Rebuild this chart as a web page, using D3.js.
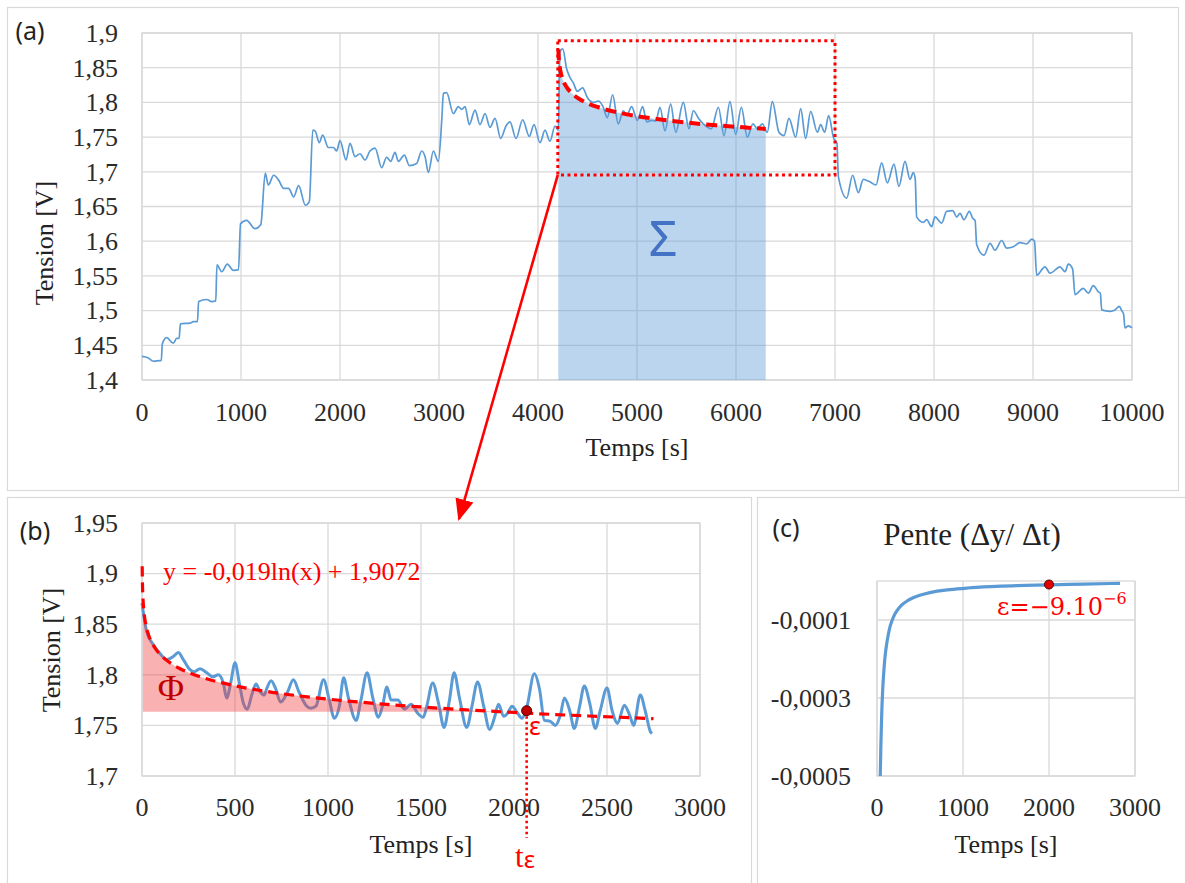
<!DOCTYPE html>
<html>
<head>
<meta charset="utf-8">
<script src="https://d3js.org/d3.v7.min.js"></script>
<style>
  body { margin: 0; background: #fff; }
  svg { display: block; }
</style>
</head>
<body>
<div id="chartHere"></div>
<script>

// ---- panel (a): full record ----
var aT = [0,60,115,182,195,205,249,316,350,375,388,485,519,560,572,653,704,745,757,805,862,923,975,995,1057,1141,1200,1245,1276,1330,1380,1431,1481,1532,1582,1650,1690,1725,1748,1791,1825,1882,1933,1966,2000,2061,2101,2152,2202,2253,2303,2354,2421,2471,2512,2556,2589,2650,2700,2774,2825,2859,2893,2943,2993,3030,3044,3077,3145,3195,3229,3263,3306,3364,3414,3465,3515,3566,3623,3677,3717,3778,3845,3912,3960,4020,4071,4121,4172,4205,4222,4250,4290,4323,4357,4397,4451,4498,4559,4609,4653,4700,4754,4811,4862,4896,4946,5003,5057,5098,5148,5190,5232,5283,5340,5391,5468,5525,5569,5626,5694,5751,5822,5879,5939,5997,6054,6114,6172,6215,6266,6316,6367,6434,6485,6535,6603,6653,6704,6754,6822,6855,6896,6936,6987,7020,7034,7118,7178,7236,7286,7347,7414,7471,7529,7596,7646,7707,7758,7791,7810,7825,7892,7926,7976,8010,8077,8128,8189,8229,8263,8303,8357,8391,8415,8431,8505,8566,8616,8684,8734,8801,8869,8936,8987,9015,9037,9121,9172,9273,9323,9357,9400,9424,9508,9559,9609,9660,9680,9694,9778,9828,9872,9896,9915,9929,9963,10000];
var aV = [1.434,1.432,1.427,1.428,1.428,1.452,1.461,1.453,1.460,1.460,1.481,1.482,1.484,1.484,1.513,1.516,1.513,1.514,1.566,1.556,1.567,1.558,1.559,1.625,1.630,1.618,1.624,1.698,1.681,1.695,1.688,1.676,1.676,1.664,1.680,1.652,1.657,1.760,1.759,1.742,1.753,1.735,1.735,1.730,1.745,1.717,1.741,1.722,1.726,1.717,1.730,1.734,1.706,1.721,1.715,1.728,1.715,1.724,1.709,1.712,1.730,1.722,1.699,1.730,1.715,1.780,1.813,1.814,1.784,1.794,1.790,1.794,1.768,1.789,1.768,1.784,1.764,1.777,1.748,1.766,1.772,1.748,1.775,1.751,1.768,1.742,1.760,1.744,1.766,1.760,1.873,1.877,1.848,1.836,1.828,1.816,1.821,1.807,1.800,1.802,1.795,1.778,1.811,1.769,1.788,1.781,1.794,1.774,1.794,1.772,1.774,1.773,1.793,1.759,1.798,1.757,1.800,1.762,1.788,1.776,1.766,1.762,1.793,1.752,1.801,1.754,1.793,1.750,1.769,1.762,1.769,1.757,1.801,1.757,1.752,1.777,1.750,1.791,1.748,1.787,1.757,1.768,1.757,1.781,1.748,1.741,1.693,1.662,1.695,1.670,1.689,1.686,1.681,1.713,1.684,1.711,1.679,1.715,1.689,1.699,1.690,1.635,1.627,1.631,1.621,1.635,1.626,1.643,1.644,1.635,1.640,1.631,1.643,1.633,1.630,1.595,1.580,1.597,1.587,1.601,1.590,1.592,1.598,1.596,1.603,1.600,1.551,1.563,1.554,1.563,1.556,1.567,1.560,1.523,1.532,1.525,1.536,1.527,1.525,1.501,1.499,1.501,1.506,1.500,1.495,1.475,1.478,1.475];
var aXTicks = [0,1000,2000,3000,4000,5000,6000,7000,8000,9000,10000];
var aYTicks = [1.4,1.45,1.5,1.55,1.6,1.65,1.7,1.75,1.8,1.85,1.9];

// ---- panel (b): zoom on the relaxation ----
var bT = [0,25,60,97,133,168,195,222,258,280,312,348,380,410,437,455,477,500,523,545,566,590,613,636,657,672,694,717,745,780,814,844,881,908,935,976,1007,1034,1061,1084,1109,1151,1177,1210,1240,1271,1294,1317,1339,1375,1411,1447,1482,1512,1531,1563,1594,1624,1653,1678,1706,1746,1774,1804,1837,1869,1894,1917,1944,1966,1989,2016,2043,2070,2109,2138,2163,2195,2222,2249,2271,2299,2324,2353,2378,2407,2437,2464,2500,2527,2557,2593,2622,2643,2679,2706,2733,2742];
var bV = [1.871,1.843,1.830,1.821,1.815,1.818,1.822,1.815,1.805,1.803,1.806,1.802,1.798,1.800,1.792,1.777,1.792,1.812,1.792,1.772,1.766,1.780,1.791,1.783,1.780,1.787,1.794,1.787,1.773,1.782,1.795,1.783,1.770,1.767,1.769,1.795,1.775,1.757,1.769,1.797,1.778,1.755,1.775,1.802,1.778,1.758,1.770,1.788,1.775,1.775,1.766,1.771,1.762,1.758,1.769,1.792,1.772,1.748,1.775,1.802,1.778,1.748,1.769,1.793,1.769,1.746,1.757,1.771,1.759,1.762,1.769,1.763,1.757,1.769,1.801,1.785,1.755,1.754,1.750,1.760,1.777,1.765,1.747,1.769,1.789,1.772,1.747,1.765,1.787,1.765,1.752,1.770,1.760,1.750,1.780,1.764,1.744,1.742];
var bXTicks = [0,500,1000,1500,2000,2500,3000];
var bYTicks = [1.7,1.75,1.8,1.85,1.9,1.95];

// log fit y = -0,019ln(x) + 1,9072, points read on the dashed curve
var fitT = [1,2,5,10,20,35,50,75,100,150,200,300,400,500,700,1000,1300,1600,2000,2100,2400,2750];
var fitV = [1.9072,1.8940,1.8766,1.8634,1.8503,1.8397,1.8329,1.8252,1.8197,1.8120,1.8065,1.7988,1.7934,1.7891,1.7827,1.7760,1.7710,1.7670,1.7628,1.7618,1.7593,1.7567];

// ---- panel (c): slope ----
var cT = [38,45,55,66,80,93,110,131,150,171,200,229,280,345,420,539,700,849,1050,1236,1450,1624,2000,2400,2826];
var cV = [-0.0005,-0.00042,-0.00034,-0.00028,-0.00023,-0.000195,-0.000165,-0.000138,-0.000118,-0.000104,-0.000088,-0.000077,-0.000063,-0.000052,-0.000043,-0.000034,-0.000026,-0.000022,-0.000018,-0.000015,-0.000013,-0.000012,-0.0000100,-0.0000080,-0.0000060];
var cXTicks = [0,1000,2000,3000];
var cYTicks = [-0.0005,-0.0003,-0.0001];

// annotations
var sigmaStart = 4200, sigmaEnd = 6300;
var boxT = [4200, 7000], boxV = [1.6955, 1.889];
var epsT = 2068, epsV = 1.7645, phiBase = 1.7635;
var slopeEpsT = 2000, slopeEpsV = -0.000009;

var blue = "#5b9bd5", red = "#ff0000", grid = "#d9d9d9", serif = "Liberation Serif";

var svg = d3.select("#chartHere").append("svg")
  .attr("width", 1185).attr("height", 883);

// panel frames
[[7,7,1171,483],[7,497,744,400],[757,497,440,400]].forEach(function(r){
  svg.append("rect").attr("x", r[0]+0.5).attr("y", r[1]+0.5).attr("width", r[2]).attr("height", r[3])
    .attr("fill", "none").attr("stroke", "#d9d9d9").attr("stroke-width", 1.2);
});

function comma(d) { return String(+d.toFixed(4)).replace(".", ","); }

// gridlines + plot border + tick labels (Excel-like, no tick marks)
function drawFrame(x, y, xTicks, yTicks, xBase, yRight) {
  var g = svg.append("g");
  var y0 = y.range()[0], y1 = y.range()[1], x0 = x.range()[0], x1 = x.range()[1];
  g.selectAll("line.v").data(xTicks).enter().append("line")
    .attr("x1", function(d){ return x(d); }).attr("x2", function(d){ return x(d); })
    .attr("y1", y0).attr("y2", y1).attr("stroke", grid).attr("stroke-width", 1.3);
  g.selectAll("line.h").data(yTicks).enter().append("line")
    .attr("y1", function(d){ return y(d); }).attr("y2", function(d){ return y(d); })
    .attr("x1", x0).attr("x2", x1).attr("stroke", grid).attr("stroke-width", 1.3);
  g.append("rect").attr("x", x0).attr("y", y1).attr("width", x1 - x0).attr("height", y0 - y1)
    .attr("fill", "none").attr("stroke", grid).attr("stroke-width", 1.3);

  g.selectAll("text.xt").data(xTicks).enter().append("text")
    .attr("x", function(d){ return x(d); }).attr("y", xBase)
    .attr("text-anchor", "middle").text(function(d){ return String(d); })
    .style("font-family", serif).style("font-size", "26px").style("fill", "#2b2b2b");
  g.selectAll("text.yt").data(yTicks).enter().append("text")
    .attr("x", yRight).attr("y", function(d){ return y(d); }).attr("dy", "0.34em")
    .attr("text-anchor", "end").text(comma)
    .style("font-family", serif).style("font-size", "26px").style("fill", "#2b2b2b");
}

function label(x, y, txt, size, opts) {
  opts = opts || {};
  var t = svg.append("text").attr("x", x).attr("y", y).text(txt)
    .style("font-family", opts.family || serif).style("font-size", size + "px")
    .style("fill", opts.fill || "#222").attr("text-anchor", opts.anchor || "middle");
  if (opts.rotate) t.attr("transform", "rotate(-90," + x + "," + y + ")");
  return t;
}

// ================= (a) =================
var xA = d3.scaleLinear().domain([0, 10000]).range([142, 1132]);
var yA = d3.scaleLinear().domain([1.4, 1.9]).range([380, 33]);
drawFrame(xA, yA, aXTicks, aYTicks, 421, 118);

var fitA = fitT.map(function(t, i){ return [sigmaStart + t, fitV[i]]; })
  .filter(function(p){ return p[0] >= sigmaStart + 5 && p[0] <= sigmaEnd; });

svg.append("path").datum(fitA)
  .attr("d", d3.area().x(function(p){ return xA(p[0]); }).y0(yA(1.4)).y1(function(p){ return yA(p[1]); }).curve(d3.curveMonotoneX))
  .attr("fill", "rgba(91,155,213,0.42)");

svg.append("path").datum(aT.map(function(t, i){ return [t, aV[i]]; }))
  .attr("d", d3.line().x(function(p){ return xA(p[0]); }).y(function(p){ return yA(p[1]); }).curve(d3.curveMonotoneX))
  .attr("fill", "none").attr("stroke", blue).attr("stroke-width", 1.7);

svg.append("path").datum(fitA)
  .attr("d", d3.line().x(function(p){ return xA(p[0]); }).y(function(p){ return yA(p[1]); }).curve(d3.curveMonotoneX))
  .attr("fill", "none").attr("stroke", red).attr("stroke-width", 4).attr("stroke-dasharray", "11,6");

svg.append("rect")
  .attr("x", xA(boxT[0])).attr("y", yA(boxV[1]))
  .attr("width", xA(boxT[1]) - xA(boxT[0])).attr("height", yA(boxV[0]) - yA(boxV[1]))
  .attr("fill", "none").attr("stroke", red).attr("stroke-width", 3).attr("stroke-dasharray", "3,3.5");

label(663, 256, "Σ", 50, {family: "Noto Sans", fill: "#4472c4"});
label(637, 456, "Temps [s]", 26);
label(53, 243, "Tension [V]", 26, {rotate: true});
label(30, 40, "(a)", 25, {family: "Noto Sans", fill: "#222"});

// arrow from the zoom box to panel (b)
var defs = svg.append("defs");
defs.append("marker").attr("id", "head").attr("viewBox", "0 0 10 10")
  .attr("refX", 9).attr("refY", 5).attr("markerUnits", "userSpaceOnUse")
  .attr("markerWidth", 22).attr("markerHeight", 22).attr("orient", "auto")
  .append("path").attr("d", "M0,0.8 L10,5 L0,9.2 z").attr("fill", red);
svg.append("line")
  .attr("x1", xA(boxT[0])).attr("y1", yA(boxV[0]))
  .attr("x2", 459).attr("y2", 519)
  .attr("stroke", red).attr("stroke-width", 2.6).attr("marker-end", "url(#head)");

// ================= (b) =================
var xB = d3.scaleLinear().domain([0, 3000]).range([142, 700]);
var yB = d3.scaleLinear().domain([1.7, 1.95]).range([776, 523]);
drawFrame(xB, yB, bXTicks, bYTicks, 816, 118);

svg.append("path").datum(bT.map(function(t, i){ return [t, bV[i]]; }))
  .attr("d", d3.line().x(function(p){ return xB(p[0]); }).y(function(p){ return yB(p[1]); }).curve(d3.curveMonotoneX))
  .attr("fill", "none").attr("stroke", blue).attr("stroke-width", 3);

var phiPts = fitT.map(function(t, i){ return [t, Math.max(fitV[i], phiBase)]; })
  .filter(function(p){ return p[0] >= 5 && p[0] <= epsT; });
phiPts.push([epsT, phiBase]);
svg.append("path").datum(phiPts)
  .attr("d", d3.area().x(function(p){ return xB(p[0]); }).y0(yB(phiBase)).y1(function(p){ return yB(p[1]); }).curve(d3.curveMonotoneX))
  .attr("fill", "rgba(240,60,60,0.4)");

svg.append("path").datum(fitT.map(function(t, i){ return [t, fitV[i]]; }))
  .attr("d", d3.line().x(function(p){ return xB(p[0]); }).y(function(p){ return yB(p[1]); }).curve(d3.curveMonotoneX))
  .attr("fill", "none").attr("stroke", red).attr("stroke-width", 3.2).attr("stroke-dasharray", "10,6");

svg.append("line")
  .attr("x1", xB(epsT)).attr("x2", xB(epsT)).attr("y1", yB(epsV)).attr("y2", 838)
  .attr("stroke", red).attr("stroke-width", 2.6).attr("stroke-dasharray", "2.5,3");
svg.append("circle").attr("cx", xB(epsT)).attr("cy", yB(epsV)).attr("r", 5)
  .attr("fill", "#c00000").attr("stroke", "#400000").attr("stroke-width", 1);

label(163, 580, "y = -0,019ln(x) + 1,9072", 26, {fill: red, anchor: "start"});
label(171, 700, "Φ", 36, {fill: "#c00000"});
label(529, 735, "ε", 25, {fill: red, anchor: "start", family: "Noto Sans"});
var te = label(525, 867, "t", 31, {fill: red});
te.append("tspan").style("font-size", "24px").style("font-family", "Noto Sans").attr("dy", 1).text("ε");
label(421, 853, "Temps [s]", 26);
label(60, 650, "Tension [V]", 26, {rotate: true});
label(35, 540, "(b)", 25, {family: "Noto Sans", fill: "#222"});

// ================= (c) =================
var xC = d3.scaleLinear().domain([0, 3000]).range([877, 1135]);
var yC = d3.scaleLinear().domain([-0.0005, 0]).range([776, 581]);
drawFrame(xC, yC, cXTicks, cYTicks, 816, 851);

svg.append("path").datum(cT.map(function(t, i){ return [t, cV[i]]; }))
  .attr("d", d3.line().x(function(p){ return xC(p[0]); }).y(function(p){ return yC(p[1]); }).curve(d3.curveMonotoneX))
  .attr("fill", "none").attr("stroke", blue).attr("stroke-width", 3.2);

svg.append("circle").attr("cx", xC(slopeEpsT)).attr("cy", yC(slopeEpsV)).attr("r", 4.5)
  .attr("fill", "#e00000").attr("stroke", "#500000").attr("stroke-width", 1);

var epsLab = label(997, 615, "ε=−9.10", 24, {fill: red, anchor: "start", family: "DejaVu Serif"});
epsLab.append("tspan").style("font-size", "16px").attr("dy", -11).text("−6");

label(972, 545, "Pente (Δy/ Δt)", 31);
label(1006, 853, "Temps [s]", 26);
label(786, 537, "(c)", 25, {family: "Noto Sans", fill: "#222"});

</script>
</body>
</html>
